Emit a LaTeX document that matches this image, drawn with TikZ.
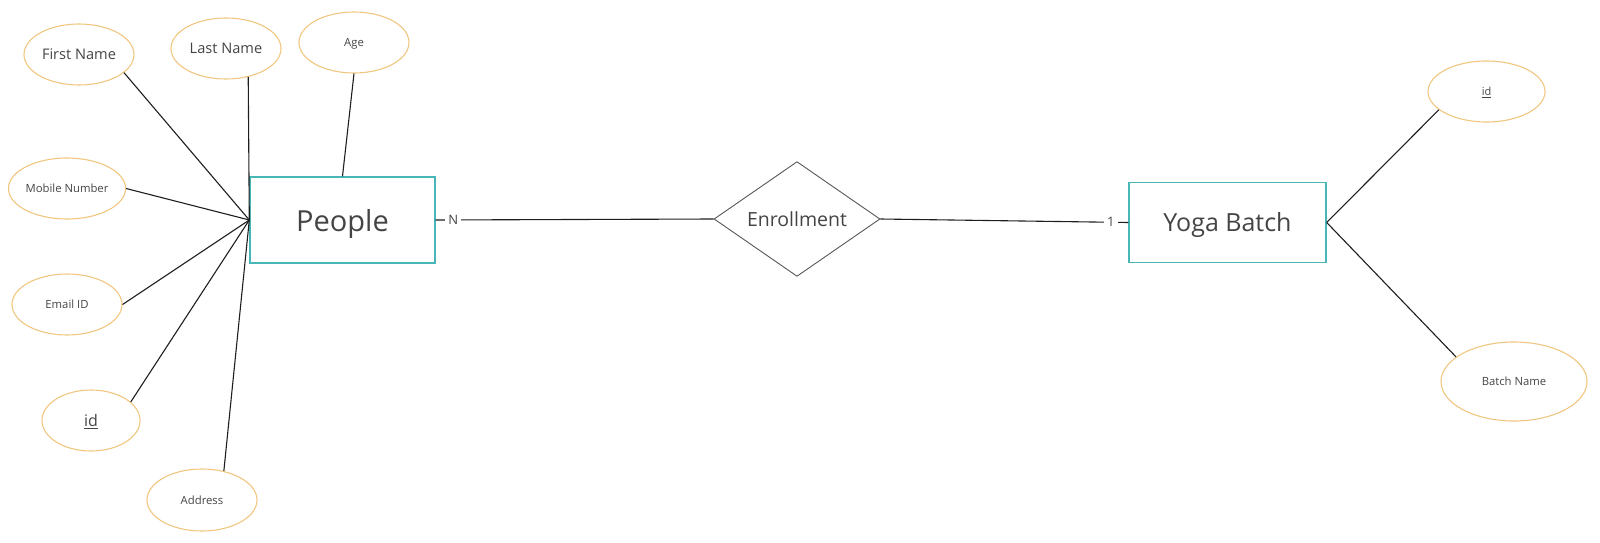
\documentclass[tikz,border=0pt]{standalone}
\usepackage{fontspec}
\setmainfont{Open Sans}
\usetikzlibrary{shapes.geometric}
\definecolor{attr}{RGB}{240,198,128}
\definecolor{ent}{RGB}{72,182,182}
\definecolor{txt}{RGB}{68,68,68}
\definecolor{ln}{RGB}{30,30,30}
\begin{document}
\begin{tikzpicture}[x=1pt,y=-1pt,
  every node/.append style={text depth=0pt},
  attrib/.style={ellipse, draw=attr, line width=1.1pt, inner sep=0pt, text=txt, font=\fontsize{11.3}{13}\selectfont},
  entity/.style={rectangle, draw=ent, line width=1.4pt, inner sep=0pt, text=txt},
  rel/.style={diamond, draw=txt!90, line width=0.9pt, inner sep=0pt, text=txt},
  conn/.style={draw=ln, line width=1.1pt},
  card/.style={fill=white, inner xsep=3pt, inner ysep=2pt, text=txt, font=\fontsize{13}{15}\selectfont}]
\useasboundingbox (0,0) rectangle (1600,543);

% entities and relationship
\node[entity, minimum width=185pt, minimum height=86pt, font=\fontsize{29}{34}\selectfont] (people) at (342.5,220) {People};
\node[entity, minimum width=197pt, minimum height=79.5pt, font=\fontsize{25}{30}\selectfont] (yoga) at (1227.5,222.5) {Yoga Batch};
\node[rel, minimum width=166pt, minimum height=110pt, font=\fontsize{19.5}{23}\selectfont] (enr) at (797,219) {Enrollment};

% attributes of People
\node[attrib, minimum width=110pt, minimum height=61pt, font=\fontsize{14.6}{17}\selectfont] (fname) at (79,54.5) {First Name};
\node[attrib, minimum width=110pt, minimum height=61pt, font=\fontsize{14.6}{17}\selectfont] (lname) at (226,48.5) {Last Name};
\node[attrib, minimum width=110pt, minimum height=61pt] (age) at (354,42.5) {Age};
\node[attrib, minimum width=110pt, minimum height=61pt] (mobile) at (67,188.5) {Mobile Number};
\node[attrib, minimum width=110pt, minimum height=61pt] (email) at (67,304.5) {Email ID};
\node[attrib, minimum width=98pt, minimum height=61pt, font=\fontsize{16}{19}\selectfont] (pid) at (91,420.5) {\underline{id}};
\node[attrib, minimum width=110pt, minimum height=62pt] (addr) at (202,500) {Address};

% attributes of Yoga Batch
\node[attrib, minimum width=117pt, minimum height=61pt, font=\fontsize{11}{13}\selectfont] (bid) at (1486.5,91.5) {\underline{id}};
\node[attrib, minimum width=146pt, minimum height=79pt] (bname) at (1514,381.5) {Batch Name};

% connectors
\draw[conn] (fname.-22) -- (people.west);
\draw[conn] (lname.-52) -- (people.west);
\draw[conn] (age.south) -- (people.north);
\draw[conn] (mobile.east) -- (people.west);
\draw[conn] (email.east) -- (people.west);
\draw[conn] (pid.25) -- (people.west);
\draw[conn] (addr.53) -- (people.west);

\draw[conn] (bid.-159) -- (yoga.east);
\draw[conn] (bname.157) -- (yoga.east);

\draw[conn] (people.east) -- node[card, pos=0.063] (ncard) {N} (enr.west);
\draw[conn] (enr.east) -- node[card, pos=0.93] (onecard) {1} (yoga.west);
\end{tikzpicture}
\end{document}
